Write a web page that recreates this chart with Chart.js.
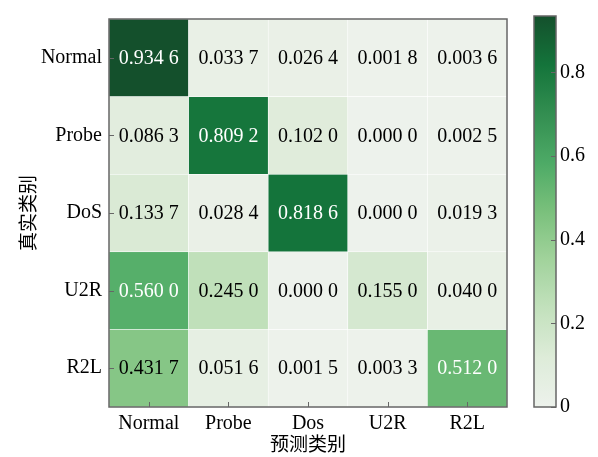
<!DOCTYPE html>
<html>
<head>
<meta charset="utf-8">
<script src="https://cdn.jsdelivr.net/npm/chart.js@4.4.1/dist/chart.umd.min.js"></script>
<style>
  html, body { margin: 0; padding: 0; background: #ffffff; }
  #wrap { position: relative; width: 598px; height: 457px; }
  #cm { position: absolute; left: 0; top: 0; }
  #cb { position: absolute; left: 520px; top: 0; }
</style>
</head>
<body>
<div id="wrap">
  <canvas id="cm" width="598" height="457"></canvas>
  <canvas id="cb" width="78" height="457"></canvas>
</div>
<script>
// Confusion matrix: rows = true class, columns = predicted class
const predictedLabels = ['Normal', 'Probe', 'Dos', 'U2R', 'R2L'];
const trueLabels = ['Normal', 'Probe', 'DoS', 'U2R', 'R2L'];
const rowNormal = [0.9346, 0.0337, 0.0264, 0.0018, 0.0036];
const rowProbe  = [0.0863, 0.8092, 0.1020, 0.0000, 0.0025];
const rowDoS    = [0.1337, 0.0284, 0.8186, 0.0000, 0.0193];
const rowU2R    = [0.5600, 0.2450, 0.0000, 0.1550, 0.0400];
const rowR2L    = [0.4317, 0.0516, 0.0015, 0.0033, 0.5120];
const colorbarTicks = [0, 0.2, 0.4, 0.6, 0.8];

const rows = [rowNormal, rowProbe, rowDoS, rowU2R, rowR2L];
const vmax = Math.max(...rows.flat());

// Sequential green colour map (slightly softened contrast)
const greenStops = ['#f7fcf5', '#e5f5e0', '#c7e9c0', '#a1d99b', '#74c476',
                    '#41ab5d', '#238b45', '#006d2c', '#00441b'];
function hexToRgb(h) {
  return [parseInt(h.slice(1, 3), 16), parseInt(h.slice(3, 5), 16), parseInt(h.slice(5, 7), 16)];
}
function greens(t) {
  t = Math.max(0, Math.min(1, t));
  const pos = t * (greenStops.length - 1);
  const i = Math.min(Math.floor(pos), greenStops.length - 2);
  const f = pos - i;
  const a = hexToRgb(greenStops[i]), b = hexToRgb(greenStops[i + 1]);
  const c = a.map((v, k) => Math.round((v + (b[k] - v) * f) * 0.88 + 20));
  return `rgb(${c[0]},${c[1]},${c[2]})`;
}

function fmtValue(v) {
  const s = v.toFixed(4);
  return s.slice(0, 5) + ' ' + s.slice(5);
}

const serif = "'Liberation Serif', 'Times New Roman', serif";
const cjk = "'Liberation Serif', 'Noto Sans CJK SC', serif";
const frameColor = '#666666';

// One floating-bar dataset per true-class row, spanning [row-0.5, row+0.5]
const datasets = rows.map((row, r) => ({
  label: trueLabels[r],
  data: row.map(() => [r - 0.5, r + 0.5]),
  values: row,
  backgroundColor: row.map(v => greens(v / vmax)),
  borderColor: 'rgba(255,255,255,0.75)',
  borderWidth: 0.6,
  borderSkipped: false,
  grouped: false,
  barPercentage: 1,
  categoryPercentage: 1
}));

const cellText = {
  id: 'cellText',
  afterDatasetsDraw(chart) {
    const ctx = chart.ctx;
    ctx.save();
    ctx.font = `20px ${serif}`;
    ctx.textAlign = 'center';
    ctx.textBaseline = 'middle';
    chart.data.datasets.forEach((ds, di) => {
      const meta = chart.getDatasetMeta(di);
      meta.data.forEach((el, i) => {
        const v = ds.values[i];
        const p = el.getCenterPoint();
        ctx.fillStyle = v > vmax / 2 ? '#ffffff' : '#000000';
        ctx.fillText(fmtValue(v), p.x, p.y + 1);
      });
    });
    ctx.restore();
  }
};

const frameAndTicks = {
  id: 'frameAndTicks',
  afterDraw(chart) {
    const ctx = chart.ctx;
    const a = chart.chartArea;
    const xs = chart.scales.x, ys = chart.scales.y;
    ctx.save();
    ctx.strokeStyle = frameColor;
    ctx.lineWidth = 1;
    ctx.beginPath();
    ys.ticks.forEach((t, i) => {
      const y = Math.round(ys.getPixelForTick(i)) + 0.5;
      ctx.moveTo(a.left, y); ctx.lineTo(a.left + 5, y);
    });
    xs.ticks.forEach((t, i) => {
      const x = Math.round(xs.getPixelForTick(i)) + 0.5;
      ctx.moveTo(x, a.bottom); ctx.lineTo(x, a.bottom - 5);
    });
    ctx.stroke();
    ctx.lineWidth = 1.5;
    ctx.strokeRect(a.left, a.top, a.right - a.left, a.bottom - a.top);
    ctx.restore();
  }
};

new Chart(document.getElementById('cm'), {
  type: 'bar',
  data: { labels: predictedLabels, datasets },
  options: {
    responsive: false,
    animation: false,
    events: [],
    layout: { padding: { left: 0, top: 11, right: 91, bottom: 0 } },
    plugins: { legend: { display: false }, tooltip: { enabled: false } },
    scales: {
      x: {
        type: 'category',
        grid: { display: false, drawTicks: false },
        border: { display: false },
        ticks: { color: '#000000', font: { family: serif, size: 20 }, padding: 5, maxRotation: 0 },
        title: { display: true, text: '预测类别', color: '#000000',
                 font: { family: cjk, size: 19 }, padding: { top: 0, bottom: 0 } },
        afterFit(s) { s.height = 50; }
      },
      y: {
        type: 'linear',
        reverse: true,
        min: -0.5,
        max: 4.5,
        grid: { display: false, drawTicks: false },
        border: { display: false },
        afterBuildTicks(s) { s.ticks = trueLabels.map((_, i) => ({ value: i })); },
        ticks: { color: '#000000', font: { family: serif, size: 20 }, padding: 7,
                 callback: v => trueLabels[v] },
        title: { display: true, text: '真实类别', color: '#000000',
                 font: { family: cjk, size: 19 }, padding: { top: 19, bottom: 0 } },
        afterFit(s) { s.width = 109; }
      }
    }
  },
  plugins: [cellText, frameAndTicks]
});

// Colour bar
const colorbarFrame = {
  id: 'colorbarFrame',
  afterDraw(chart) {
    const ctx = chart.ctx;
    const a = chart.chartArea;
    const ys = chart.scales.y;
    ctx.save();
    ctx.strokeStyle = frameColor;
    ctx.lineWidth = 1;
    ctx.beginPath();
    ys.ticks.forEach((t, i) => {
      const y = Math.round(ys.getPixelForTick(i)) + 0.5;
      ctx.moveTo(a.right, y); ctx.lineTo(a.right - 5, y);
    });
    ctx.stroke();
    ctx.lineWidth = 1.5;
    ctx.strokeRect(a.left, a.top, a.right - a.left, a.bottom - a.top);
    ctx.restore();
  }
};

new Chart(document.getElementById('cb'), {
  type: 'bar',
  data: {
    labels: [''],
    datasets: [{
      data: [[0, vmax]],
      backgroundColor(c) {
        const a = c.chart.chartArea;
        if (!a) return greens(0.5);
        const g = c.chart.ctx.createLinearGradient(0, a.bottom, 0, a.top);
        for (let k = 0; k <= 32; k++) g.addColorStop(k / 32, greens(k / 32));
        return g;
      },
      borderWidth: 0,
      barPercentage: 1,
      categoryPercentage: 1
    }]
  },
  options: {
    responsive: false,
    animation: false,
    events: [],
    layout: { padding: { left: 14, top: 11, right: 0, bottom: 50 } },
    plugins: { legend: { display: false }, tooltip: { enabled: false } },
    scales: {
      x: { display: false },
      y: {
        type: 'linear',
        position: 'right',
        min: 0,
        max: vmax,
        grid: { display: false, drawTicks: false },
        border: { display: false },
        afterBuildTicks(s) { s.ticks = colorbarTicks.map(v => ({ value: v })); },
        ticks: { color: '#000000', font: { family: serif, size: 20 }, padding: 4,
                 callback: v => (v === 0 ? '0' : v.toFixed(1)) },
        afterFit(s) { s.width = 42; }
      }
    }
  },
  plugins: [colorbarFrame]
});
</script>
</body>
</html>
